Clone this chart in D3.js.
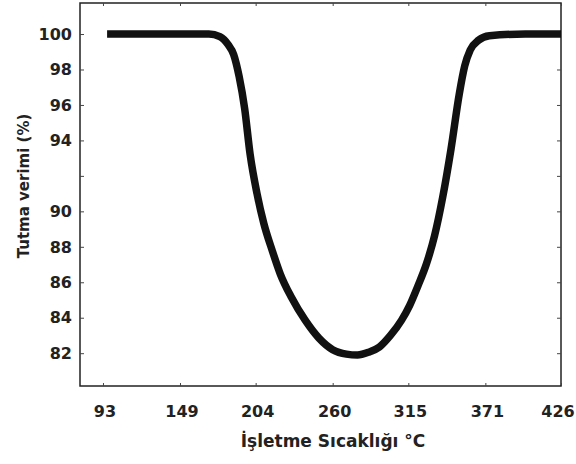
<!DOCTYPE html>
<html>
<head>
<meta charset="utf-8">
<script src="https://cdn.jsdelivr.net/npm/d3@7"></script>
<style>
  body { margin: 0; background: #fff; }
  svg text { font-family: "DejaVu Sans", "Liberation Sans", Arial, sans-serif; font-weight: bold; fill: #222; }
</style>
</head>
<body>
<div id="chart"></div>
<script>
// operating temperature (°C) and retention efficiency (%)
var temps  = [96, 150, 170, 178, 184, 188, 192, 196, 200, 205, 210, 216, 222, 230, 240, 250, 260, 270, 278, 286, 294, 302, 310, 316, 322, 328, 334, 340, 346, 352, 356, 360, 366, 374, 400, 426];
var values = [100, 100, 100, 99.85, 99.4, 98.85, 97.6, 95.8, 93.2, 91.0, 89.3, 87.8, 86.45, 85.15, 83.86, 82.85, 82.2, 81.95, 81.9, 82.05, 82.35, 83.0, 83.85, 84.7, 85.8, 87.0, 88.6, 90.8, 93.5, 96.6, 98.2, 99.1, 99.65, 99.9, 100, 100];

var xTicks = [93, 149, 204, 260, 315, 371, 426];
var yTicks = [82, 84, 86, 88, 90, 92, 94, 96, 98, 100];
var yLabels = [82, 84, 86, 88, 90, 94, 96, 98, 100]; // 92 has no label

var W = 576, H = 464;
var frameL = 80, frameR = 561, frameT = 3, frameB = 386;

var svg = d3.select('#chart').append('svg')
            .attr('width', W)
            .attr('height', H);

var x = d3.scaleLinear().domain([76.3, 426]).range([frameL, frameR]);
var y = d3.scaleLinear().domain([80.15, 101.75]).range([frameB, frameT]);

// frame
svg.append('rect')
   .attr('x', frameL).attr('y', frameT)
   .attr('width', frameR - frameL).attr('height', frameB - frameT)
   .attr('fill', 'none').attr('stroke', '#222').attr('stroke-width', 1.5);

// inward ticks on all four sides
function plain(g) { g.select('.domain').remove(); g.selectAll('line').attr('stroke', '#444'); }
svg.append('g').attr('transform', 'translate(' + frameL + ',0)')
   .call(d3.axisRight(y).tickValues(yTicks).tickSize(4).tickFormat(''))
   .call(plain);
svg.append('g').attr('transform', 'translate(' + frameR + ',0)')
   .call(d3.axisLeft(y).tickValues(yTicks).tickSize(4).tickFormat(''))
   .call(plain);
svg.append('g').attr('transform', 'translate(0,' + frameB + ')')
   .call(d3.axisTop(x).tickValues(xTicks).tickSize(3).tickFormat(''))
   .call(plain);
svg.append('g').attr('transform', 'translate(0,' + frameT + ')')
   .call(d3.axisBottom(x).tickValues(xTicks).tickSize(3).tickFormat(''))
   .call(plain);

// tick labels
svg.selectAll('.ylab').data(yLabels).enter().append('text')
   .attr('class', 'ylab')
   .attr('x', 72)
   .attr('y', function(d) { return y(d); })
   .attr('dy', '0.36em')
   .attr('text-anchor', 'end')
   .attr('font-size', 16)
   .text(function(d) { return d; });

// last label is pulled in so it stays inside the page
svg.selectAll('.xlab').data(xTicks).enter().append('text')
   .attr('class', 'xlab')
   .attr('x', function(d) { return Math.min(x(d) + 2, W - 18); })
   .attr('y', 417)
   .attr('text-anchor', 'middle')
   .attr('font-size', 16)
   .text(function(d) { return d; });

// axis titles
svg.append('text')
   .attr('x', 333).attr('y', 447)
   .attr('text-anchor', 'middle')
   .attr('font-size', 17)
   .text('İşletme Sıcaklığı °C');

svg.append('text')
   .attr('transform', 'translate(29,186) rotate(-90)')
   .attr('text-anchor', 'middle')
   .attr('font-size', 15)
   .text('Tutma verimi (%)');

// curve
var line = d3.line()
             .x(function(d, i) { return x(temps[i]); })
             .y(function(d) { return y(d); })
             .curve(d3.curveMonotoneX);

svg.append('path')
   .datum(values)
   .attr('d', line)
   .attr('fill', 'none')
   .attr('stroke', '#111')
   .attr('stroke-width', 7.5)
   .attr('stroke-linejoin', 'round');
</script>
</body>
</html>
